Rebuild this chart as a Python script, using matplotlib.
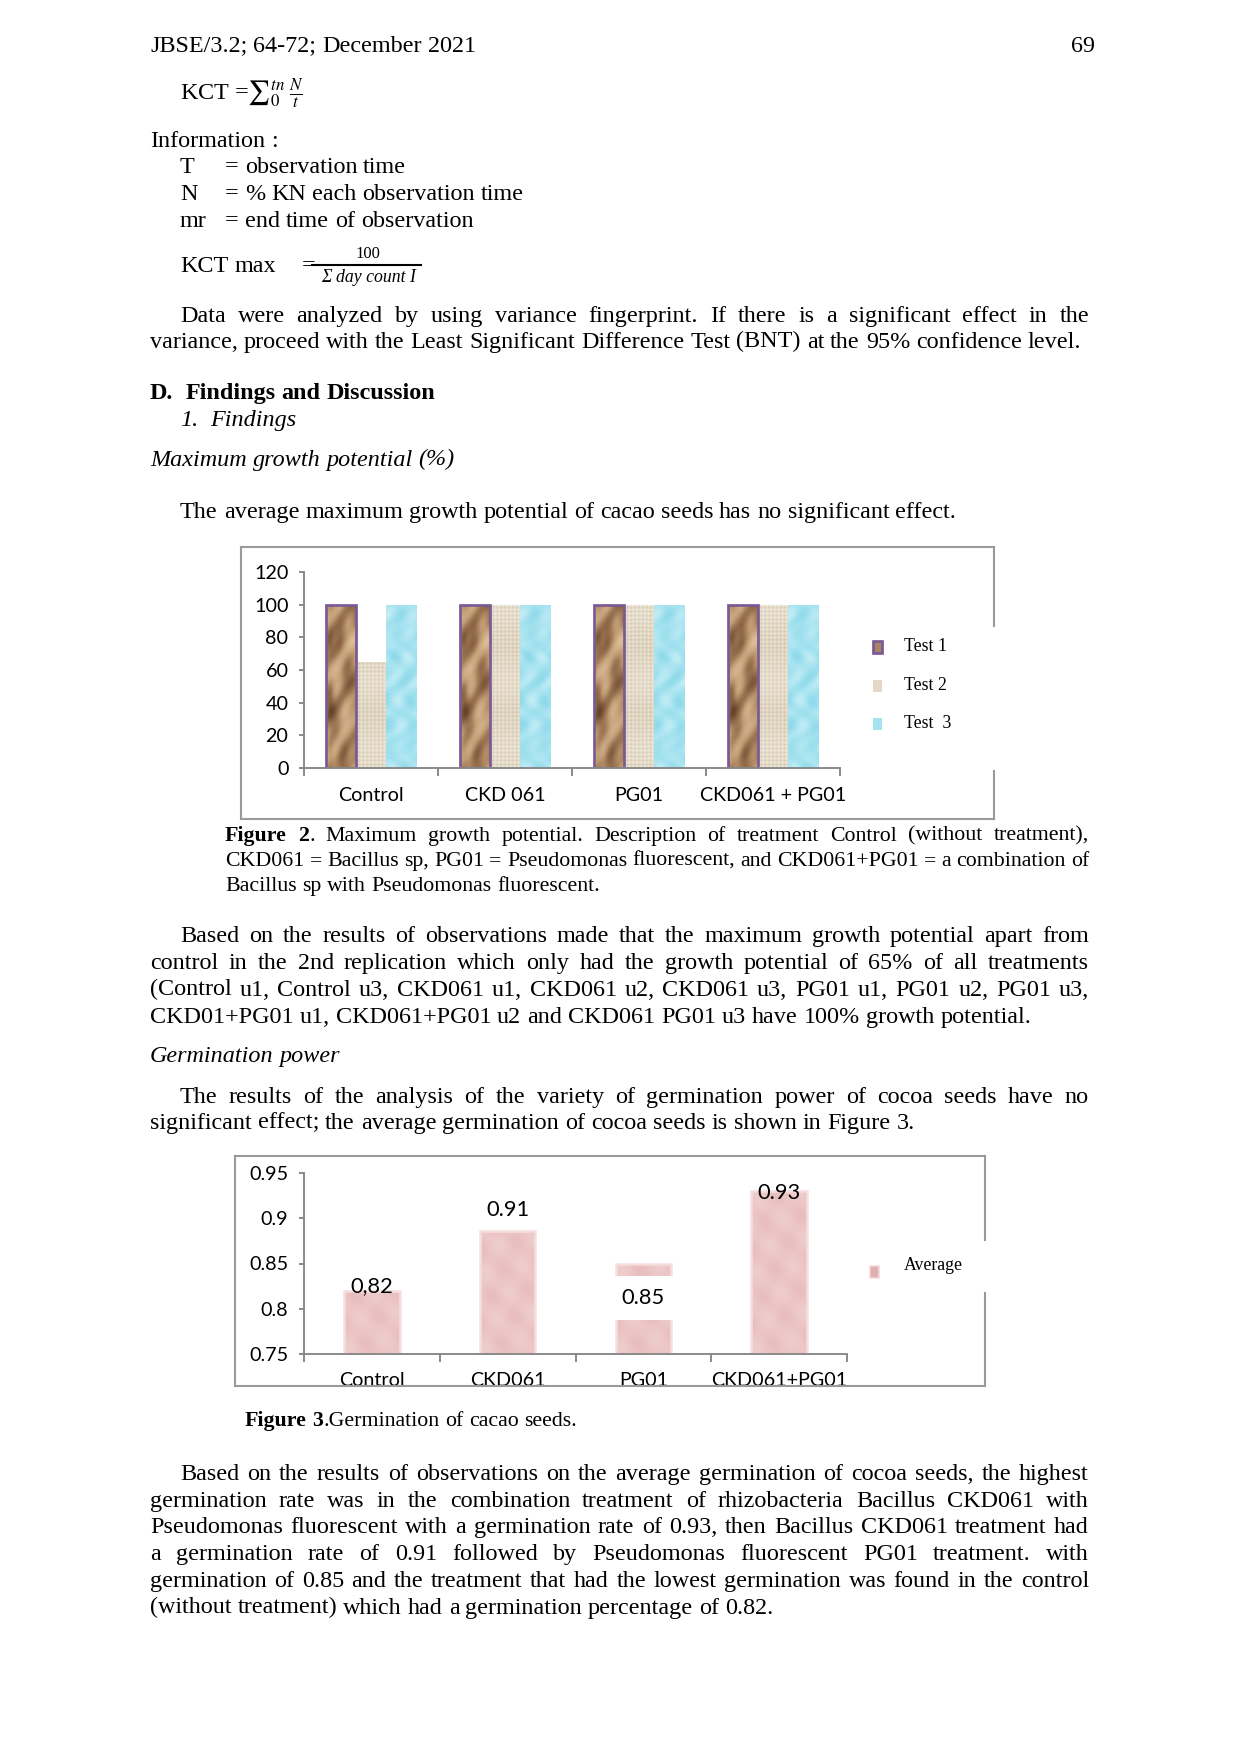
import matplotlib
matplotlib.use('Agg')
import matplotlib.pyplot as plt
import numpy as np
from matplotlib.patches import Rectangle
from matplotlib.lines import Line2D
from matplotlib.colors import LinearSegmentedColormap
from matplotlib.transforms import Bbox, TransformedBbox, blended_transform_factory

W, H = 1240, 1754
DPI = 150

# ---- chart data ----
treatments = ['Control', 'CKD 061', 'PG01', 'CKD061 + PG01']
test1 = [100, 100, 100, 100]
test2 = [65, 100, 100, 100]
test3 = [100, 100, 100, 100]
test_names = ['Test 1', 'Test 2', 'Test  3']

germ_names = ['Control', 'CKD061', 'PG01', 'CKD061+PG01']
germ_values = [0.82, 0.886, 0.85, 0.93]
germ_texts = ['0,82', '0.91', '0.85', '0.93']

plt.rcParams['font.family'] = ['Lato', 'DejaVu Sans']
plt.rcParams['mathtext.fontset'] = 'stix'

SERIF = ['Liberation Serif', 'DejaVu Serif']
BODY = 11.6
AXC = '#868686'

fig = plt.figure(figsize=(W / DPI, H / DPI), dpi=DPI)
fig.patch.set_facecolor('white')
renderer = fig.canvas.get_renderer()


def fx(x):
    return x / W


def fy(y):
    return 1 - y / H


def text_w(s, size, weight='normal', style='normal'):
    t = fig.text(0, 0, s, fontsize=size, family=SERIF, weight=weight, style=style)
    w = t.get_window_extent(renderer).width
    t.remove()
    return w


def parse_words(line):
    words = []
    bold = False
    for raw in line.split(' '):
        segs = []
        for k, p in enumerate(raw.split('**')):
            if k > 0:
                bold = not bold
            if p:
                segs.append((p, 'bold' if bold else 'normal'))
        words.append(segs)
    return words


def put_line(line, x0, yc, x1=None, size=BODY, style='normal', weight=None):
    words = parse_words(line)
    if weight:
        words = [[(p, weight) for p, _ in segs] for segs in words]
    widths = [sum(text_w(p, size, wt, style) for p, wt in segs) for segs in words]
    space = text_w('a a', size, style=style) - text_w('aa', size, style=style)
    if x1 is not None and len(words) > 1:
        space = (x1 - x0 - sum(widths)) / (len(words) - 1)
    base = yc + 0.27 * size * DPI / 72
    x = x0
    for segs in words:
        for p, wt in segs:
            fig.text(fx(x), fy(base), p, fontsize=size, family=SERIF, weight=wt,
                     style=style, ha='left', va='baseline')
            x += text_w(p, size, wt, style)
        x += space


def paragraph(lines, ys, x_first=180, x_left=150, x_right=1089, size=BODY):
    for i, (ln, y) in enumerate(zip(lines, ys)):
        x0 = x_first if i == 0 else x_left
        put_line(ln, x0, y, x_right if i < len(lines) - 1 else None, size=size)


# ---- page text ----
put_line('JBSE/3.2; 64-72; December 2021', 150, 45)
fig.text(fx(1095), fy(52), '69', fontsize=BODY, family=SERIF, ha='right', va='baseline')

fig.text(fx(180), fy(100), r'KCT =$∑_{0}^{tn}\;\frac{N}{t}$', fontsize=BODY, family=SERIF,
         va='baseline')

put_line('Information :', 150, 140)
for lab, desc, y in [('T', '= observation time', 166),
                     ('N', '= % KN each observation time', 193),
                     ('mr', '= end time of observation', 220)]:
    put_line(lab, 180, y)
    put_line(desc, 225, y)

put_line('KCT max', 180, 265)
put_line('=', 302, 265)
fig.add_artist(Line2D([fx(312), fx(421)], [fy(265), fy(265)], color='black', lw=1.0))
fig.text(fx(368), fy(254), '100', fontsize=8, family=SERIF, ha='center', va='center')
fig.text(fx(368), fy(278), 'Σ day count I', fontsize=8.5, family=SERIF, style='italic',
         ha='center', va='center')

paragraph(['Data were analyzed by using variance fingerprint. If there is a significant effect in the',
           'variance, proceed with the Least Significant Difference Test (BNT) at the 95% confidence level.'],
          [315, 341])

put_line('D.  Findings and Discussion', 150, 392, weight='bold')
put_line('1.  Findings', 180, 419, style='italic')
put_line('Maximum growth potential (%)', 150, 459, style='italic')
put_line('The average maximum growth potential of cacao seeds has no significant effect.', 180, 511)

paragraph(['**Figure 2**. Maximum growth potential. Description of treatment Control (without treatment),',
           'CKD061 = Bacillus sp, PG01 = Pseudomonas fluorescent, and CKD061+PG01 = a combination of',
           'Bacillus sp with Pseudomonas fluorescent.'],
          [835, 860, 885], x_first=225, x_left=225, size=10.5)

paragraph(['Based on the results of observations made that the maximum growth potential apart from',
           'control in the 2nd replication which only had the growth potential of 65% of all treatments',
           '(Control u1, Control u3, CKD061 u1, CKD061 u2, CKD061 u3, PG01 u1, PG01 u2, PG01 u3,',
           'CKD01+PG01 u1, CKD061+PG01 u2 and CKD061 PG01 u3 have 100% growth potential.'],
          [935, 962, 989, 1016])

put_line('Germination power', 150, 1055, style='italic')

paragraph(['The results of the analysis of the variety of germination power of cocoa seeds have no',
           'significant effect; the average germination of cocoa seeds is shown in Figure 3.'],
          [1096, 1122])

put_line('**Figure 3**.Germination of cacao seeds.', 245, 1420, size=10.5)

paragraph(['Based on the results of observations on the average germination of cocoa seeds, the highest',
           'germination rate was in the combination treatment of rhizobacteria Bacillus CKD061 with',
           'Pseudomonas fluorescent with a germination rate of 0.93, then Bacillus CKD061 treatment had',
           'a germination rate of 0.91 followed by Pseudomonas fluorescent PG01 treatment. with',
           'germination of 0.85 and the treatment that had the lowest germination was found in the control',
           '(without treatment) which had a germination percentage of 0.82.'],
          [1473, 1500, 1526, 1553, 1580, 1607])


# ---- bar fill textures (Excel picture fills) ----
def texture(kind, ny, nx=32):
    yy, xx = np.mgrid[0:ny, 0:nx].astype(float)
    if kind == 'paper':
        z = (0.58 + 0.2 * np.sin(yy / 11.0 - xx / 9.0 + 0.8 * np.sin(xx / 5.0))
             + 0.1 * np.sin(xx / 4.0 + yy / 17.0)
             + 0.08 * np.sin(yy / 4.3 - xx / 3.1)
             - 0.12 * np.exp(-((xx - 4) / 4.0) ** 2) * (1 + np.sin(yy / 9.0)))
    elif kind == 'burlap':
        z = 0.55 + 0.17 * np.sin(xx * 2 * np.pi / 4.0) + 0.17 * np.sin(yy * 2 * np.pi / 4.0) \
            + 0.08 * np.sin(yy / 11.0)
    elif kind == 'water':
        z = 0.5 + 0.2 * np.sin(xx / 4.0 + 2.0 * np.sin(yy / 9.0)) * np.cos(yy / 7.0) \
            + 0.1 * np.sin((xx - yy) / 5.0)
    else:
        z = 0.55 + 0.08 * np.sin(yy / 6.0 + xx / 4.0) + 0.06 * np.cos(xx / 3.0 - yy / 11.0)
    return np.clip(z, 0, 1)


cmaps = {
    'paper': LinearSegmentedColormap.from_list('paper', ['#4a2f1a', '#8d6646', '#bf9a72', '#e0c29c']),
    'burlap': LinearSegmentedColormap.from_list('burlap', ['#c6b89e', '#e2d8c5', '#f1ebdf']),
    'water': LinearSegmentedColormap.from_list('water', ['#7fd3e6', '#a6e3f0', '#d4f3f9']),
    'pink': LinearSegmentedColormap.from_list('pink', ['#d9a4a6', '#ebc3c3', '#f5dcdc']),
}


def fill_bars(ax, bars, kind, px_per_unit):
    for b in bars:
        x0, y0 = b.get_x(), b.get_y()
        w, h = b.get_width(), b.get_height()
        ny = max(int(h * px_per_unit), 4)
        im = ax.imshow(texture(kind, ny), cmap=cmaps[kind], vmin=0, vmax=1, origin='lower',
                       extent=(x0, x0 + w, y0, y0 + h), aspect='auto',
                       interpolation='bilinear', zorder=2.2)
        im.set_clip_path(b)


def frame(x0, y0, x1, y1, gap):
    kw = dict(color='#9a9a9a', lw=1.0)
    fig.add_artist(Line2D([fx(x0), fx(x1)], [fy(y0), fy(y0)], **kw))
    fig.add_artist(Line2D([fx(x0), fx(x1)], [fy(y1), fy(y1)], **kw))
    fig.add_artist(Line2D([fx(x0), fx(x0)], [fy(y0), fy(y1)], **kw))
    fig.add_artist(Line2D([fx(x1), fx(x1)], [fy(y0), fy(gap[0])], **kw))
    fig.add_artist(Line2D([fx(x1), fx(x1)], [fy(gap[1]), fy(y1)], **kw))


def style_axes(ax):
    ax.patch.set_alpha(0)
    for s in ['top', 'right']:
        ax.spines[s].set_visible(False)
    for s in ['left', 'bottom']:
        ax.spines[s].set_color(AXC)
        ax.spines[s].set_linewidth(0.9)
        ax.spines[s].set_zorder(5)


# ---- Figure 2: maximum growth potential ----
frame(241, 547, 994, 819, (626, 771))
ax1 = fig.add_axes([fx(304), fy(768), (840 - 304) / W, (768 - 572) / H])
x = np.arange(len(treatments))
bw = 0.225
face1 = ['#a88462', '#e3d9c6', '#a6e3f0']
kinds1 = ['paper', 'burlap', 'water']
for k, vals in enumerate([test1, test2, test3]):
    bars = ax1.bar(x + (k - 1) * bw, vals, bw, color=face1[k], linewidth=0, zorder=2)
    fill_bars(ax1, bars, kinds1[k], 196 / 120)
    if k == 0:
        ax1.bar(x + (k - 1) * bw, vals, bw, fill=False, edgecolor='#7a5a96', linewidth=1.3, zorder=3)
ax1.set_xlim(-0.5, 3.5)
ax1.set_ylim(0, 120)
ax1.set_yticks(range(0, 121, 20))
ax1.set_xticks(x)
ax1.set_xticklabels(treatments)
ax1.set_xticks(np.arange(-0.5, 4, 1), minor=True)
ax1.tick_params(axis='x', which='major', length=0, pad=9, labelsize=9.5)
ax1.tick_params(axis='x', which='minor', length=3.8, color=AXC, width=0.9)
ax1.tick_params(axis='y', length=2.5, color=AXC, width=0.9, pad=5, labelsize=9.5)
style_axes(ax1)

for k, (name, y) in enumerate(zip(test_names, [647, 686, 724])):
    fig.add_artist(Rectangle((fx(873), fy(y + 6)), 9 / W, 12 / H, transform=fig.transFigure,
                             facecolor=face1[k], edgecolor='#7a5a96' if k == 0 else face1[k],
                             lw=1.3 if k == 0 else 0))
    fig.text(fx(904), fy(y + 4), name, fontsize=8.5, family=SERIF, va='baseline')

# ---- Figure 3: germination ----
frame(235, 1156, 985, 1386, (1240, 1293))
ax2 = fig.add_axes([fx(304), fy(1354), (847 - 304) / W, (1354 - 1173) / H])
x2 = np.arange(len(germ_names))
y_min = 0.75
heights2 = np.array(germ_values) - y_min
pink = '#ebc3c3'
bars2 = ax2.bar(x2, heights2, 0.41, bottom=y_min, color=pink, linewidth=0, zorder=2)
fill_bars(ax2, bars2, 'pink', 181 / 0.2)
ax2.bar(x2, heights2, 0.41, bottom=y_min, fill=False, edgecolor='#f4dede', linewidth=1.2, zorder=3)
ax2.set_xlim(-0.5, 3.5)
ax2.set_ylim(y_min, 0.95)
ax2.set_yticks([0.75, 0.8, 0.85, 0.9, 0.95])
ax2.set_yticklabels(['0.75', '0.8', '0.85', '0.9', '0.95'])
ax2.set_xticks(np.arange(-0.5, 4, 1))
ax2.set_xticklabels([])
ax2.tick_params(axis='x', length=3.8, color=AXC, width=0.9)
ax2.tick_params(axis='y', length=2.5, color=AXC, width=0.9, pad=5, labelsize=9.5)
style_axes(ax2)

clip = TransformedBbox(Bbox([[0, fy(1386)], [1, 1]]), fig.transFigure)
lab_tr = blended_transform_factory(ax2.transData, fig.transFigure)
for i, name in enumerate(germ_names):
    t = ax2.text(i, fy(1381), name, transform=lab_tr, ha='center', va='center',
                 fontsize=9.5, clip_on=True)
    t.set_clip_box(clip)

label_offsets = [0.005, 0.023, -0.038, -0.002]
for i, (v, s, off) in enumerate(zip(germ_values, germ_texts, label_offsets)):
    if off < -0.02:
        ax2.add_patch(Rectangle((i - 0.23, v + off - 0.024), 0.46, 0.048,
                                facecolor='white', edgecolor='none', zorder=4))
    ax2.text(i, v + off, s, ha='center', va='center', fontsize=10.5, zorder=5)

fig.add_artist(Rectangle((fx(870), fy(1278)), 9 / W, 12 / H, transform=fig.transFigure,
                         facecolor='#dfaeb0', edgecolor='#f2d8d8', lw=0.8))
fig.text(fx(904), fy(1270), 'Average', fontsize=8.5, family=SERIF, va='baseline')

fig.savefig('out.png', dpi=DPI)
